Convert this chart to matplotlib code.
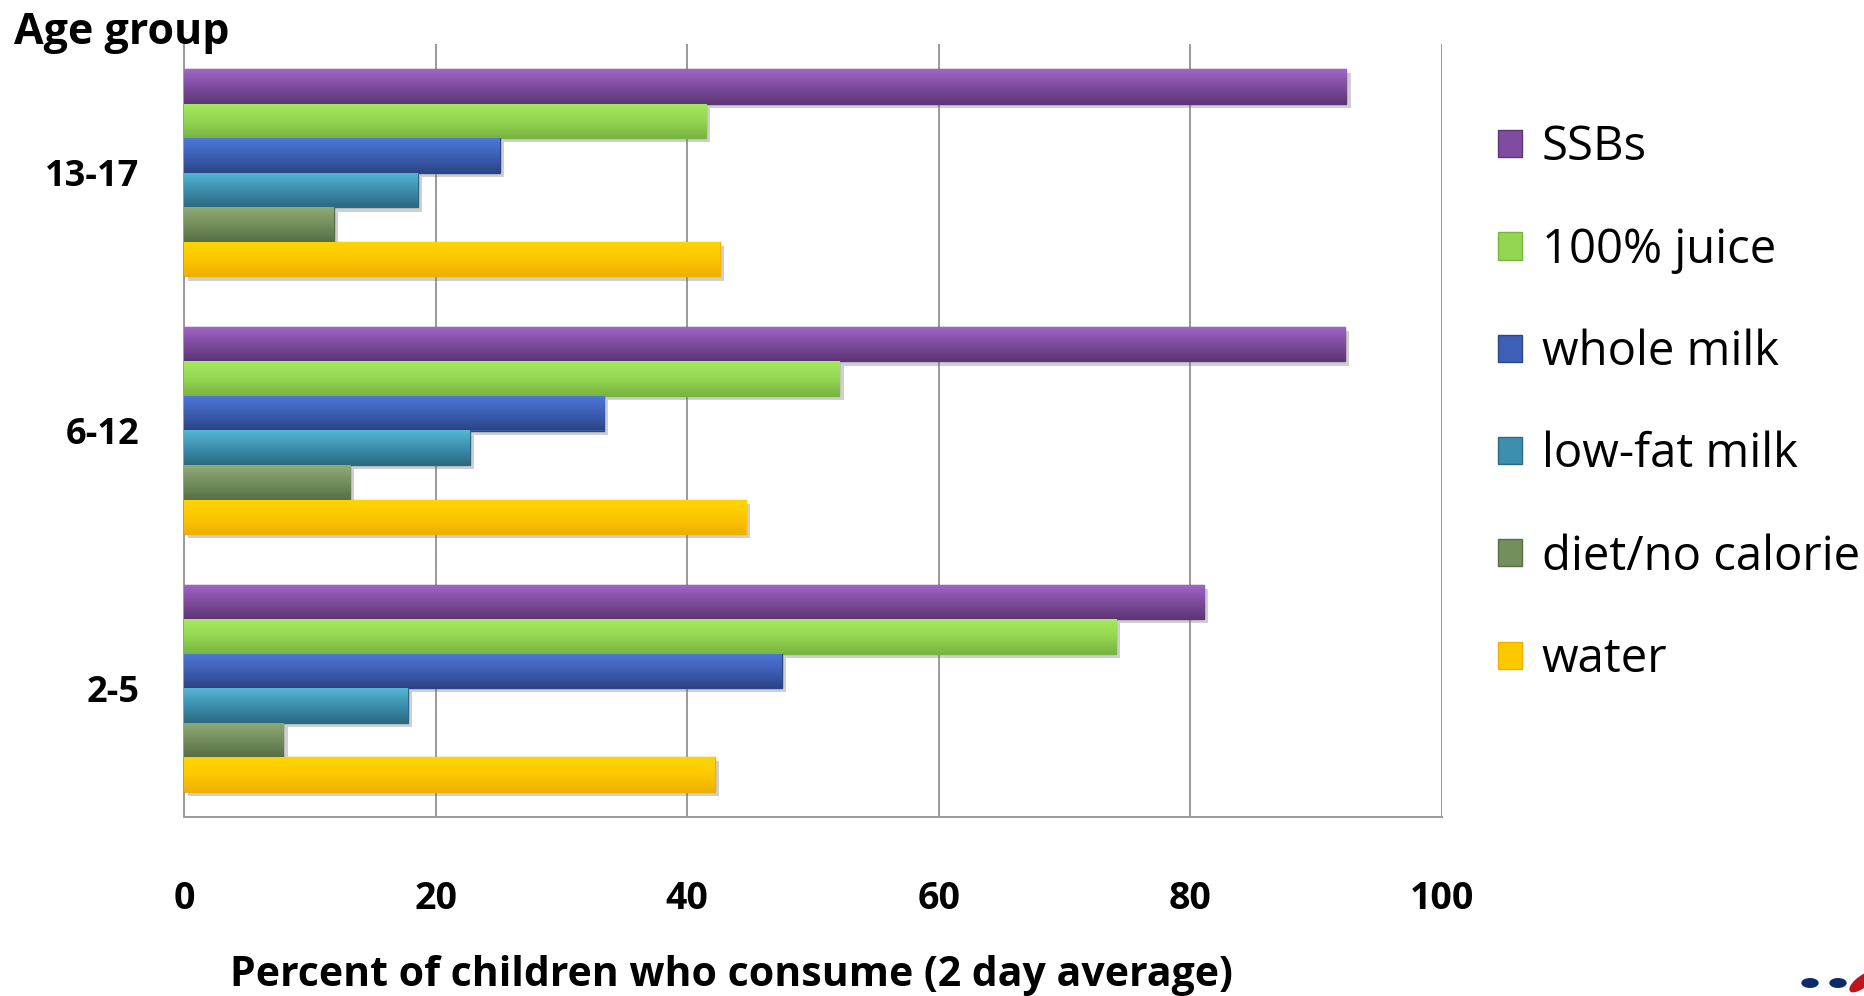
import numpy as np
import matplotlib
matplotlib.use("Agg")
import matplotlib.pyplot as plt
import matplotlib.patheffects as pe
from matplotlib.colors import LinearSegmentedColormap
from matplotlib.patches import Patch, Circle, Ellipse

plt.rcParams['font.family'] = ['Open Sans', 'DejaVu Sans']

# Data: percent of children who consume each beverage (2 day average)
age_groups = ["2-5", "6-12", "13-17"]
beverages = ["SSBs", "100% juice", "whole milk", "low-fat milk", "diet/no calorie", "water"]
ssbs = [81.1, 92.3, 92.4]
juice = [74.1, 52.1, 41.5]
whole_milk = [47.5, 33.4, 25.1]
lowfat_milk = [17.8, 22.7, 18.6]
diet = [7.9, 13.2, 11.9]
water = [42.2, 44.7, 42.6]
series = [ssbs, juice, whole_milk, lowfat_milk, diet, water]
x_ticks = [0, 20, 40, 60, 80, 100]

# (top, middle, bottom) shades for the gradient fill of each series
shades = [
    ("#a066c6", "#7f4c9f", "#5e3676"),
    ("#a6e85e", "#94d652", "#78b540"),
    ("#4f78d8", "#3d5fb5", "#2b4585"),
    ("#55b6d6", "#3d8fae", "#2b6a82"),
    ("#90ab74", "#748e5c", "#586e45"),
    ("#ffd500", "#fcc800", "#efb000"),
]

W, H = 1864, 996
fig = plt.figure(figsize=(W / 100, H / 100), dpi=100)
ax = fig.add_axes([184 / W, 1 - 817 / H, (1442 - 184) / W, (817 - 44) / H])

n = len(beverages)
bar_h = 0.134
ypos = np.arange(len(age_groups))
grad = np.linspace(0, 1, 64).reshape(-1, 1)

for i, (vals, (c_top, c_mid, c_bot)) in enumerate(zip(series, shades)):
    offset = (n / 2 - 0.5 - i) * bar_h
    bars = ax.barh(ypos + offset, vals, height=bar_h, color=c_mid,
                   edgecolor=c_bot, linewidth=1.0, zorder=2, label=beverages[i])
    cmap = LinearSegmentedColormap.from_list(f"g{i}", [c_top, c_mid, c_bot])
    for bar in bars:
        bar.set_path_effects([pe.SimplePatchShadow(offset=(3, -3), shadow_rgbFace="#777777", alpha=0.35),
                              pe.Normal()])
        x0, y0 = bar.get_x(), bar.get_y()
        im = ax.imshow(grad, cmap=cmap, aspect="auto", zorder=3,
                       extent=(x0, x0 + bar.get_width(), y0, y0 + bar.get_height()))
        im.set_clip_path(bar)

ax.set_xlim(0, 100)
ax.set_ylim(-0.5, len(age_groups) - 0.5)
ax.set_xticks(x_ticks)
ax.set_xticklabels([str(t) for t in x_ticks], fontsize=27, fontweight="bold")
ax.set_yticks(ypos)
ax.set_yticklabels(age_groups, fontsize=26, fontweight="bold")
ax.tick_params(axis="x", length=0, pad=45)
ax.tick_params(axis="y", length=0, pad=32)

ax.grid(axis="x", color="#9a9a9a", linewidth=1.4, zorder=0)
ax.set_axisbelow(True)
for side in ("top", "right"):
    ax.spines[side].set_visible(False)
for side in ("left", "bottom"):
    ax.spines[side].set_color("#9a9a9a")
    ax.spines[side].set_linewidth(1.4)

fig.text(14 / W, 1 - 33 / H, "Age group", fontsize=31, fontweight="bold",
         ha="left", va="center")
fig.text(731 / W, 1 - 975 / H, "Percent of children who consume (2 day average)",
         fontsize=29.5, fontweight="bold", ha="center", va="center")

handles = [Patch(facecolor=m, edgecolor=b, linewidth=1.0) for (_, m, b) in shades]
fig.legend(handles, beverages, loc="upper left", bbox_to_anchor=(1498 / W, 1 - 124 / H),
           frameon=False, fontsize=34, handlelength=0.51, handleheight=0.51,
           handletextpad=0.42, labelspacing=1.16, borderaxespad=0, borderpad=0)

# small logo mark in the bottom-right corner
fig.patches.append(Circle((1810 / W, 1 - 983 / H), 8 / W, transform=fig.transFigure,
                          color="#0b2a68", zorder=5))
fig.patches.append(Circle((1838 / W, 1 - 983 / H), 8 / W, transform=fig.transFigure,
                          color="#0b2a68", zorder=5))
fig.patches.append(Ellipse((1862 / W, 1 - 982 / H), 14 / W, 22 / H, angle=-30,
                           transform=fig.transFigure, color="#c0141c", zorder=5))

fig.savefig("out.png", dpi=100)
